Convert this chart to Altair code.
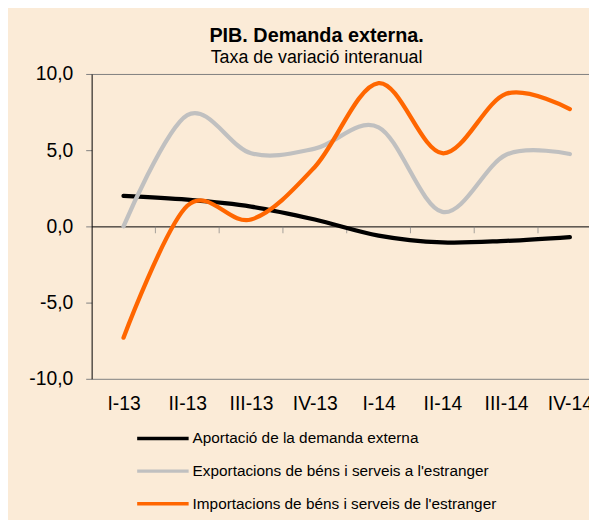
import altair as alt
import pandas as pd

categories = ["I-13", "II-13", "III-13", "IV-13", "I-14", "II-14", "III-14", "IV-14"]
aportacio = [2.0, 1.75, 1.3, 0.45, -0.6, -1.05, -0.95, -0.7]
exportacions = [0.0, 7.3, 4.8, 5.1, 6.5, 0.95, 4.7, 4.75]
importacions = [-7.3, 1.35, 0.45, 3.9, 9.4, 4.8, 8.7, 7.7]
series_names = [
    "Aportació de la demanda externa",
    "Exportacions de béns i serveis a l'estranger",
    "Importacions de béns i serveis de l'estranger",
]
series_colors = ["#000000", "#C0C0C0", "#FF6600"]
y_ticks = [-10, -5, 0, 5, 10]

FONT = "Liberation Sans"
BG = "#FBEBD7"

rows = []
for name, vals in zip(series_names, [aportacio, exportacions, importacions]):
    for i, v in enumerate(vals):
        rows.append({"idx": i, "cat": categories[i], "serie": name, "valor": v})
df = pd.DataFrame(rows)

tick_df = pd.DataFrame({"pos": [i + 0.5 for i in range(len(categories) - 1)], "zero": 0})

label_expr = "[" + ",".join("'" + c + "'" for c in categories) + "][datum.value]"

x_scale = alt.Scale(domain=[-0.5, 7.3], nice=False, zero=False)
y_scale = alt.Scale(domain=[-10, 10], nice=False)

lines = alt.Chart(df).mark_line(
    interpolate="cardinal", strokeWidth=4.3, strokeCap="round", strokeJoin="round"
).encode(
    x=alt.X(
        "idx:Q",
        scale=x_scale,
        axis=alt.Axis(
            values=list(range(len(categories))),
            labelExpr=label_expr,
            title=None,
            domain=False,
            ticks=False,
            tickSize=0,
            grid=False,
            labelFont=FONT,
            labelFontSize=19.5,
            labelColor="#000000",
            labelPadding=16,
            labelFlush=False,
        ),
    ),
    y=alt.Y(
        "valor:Q",
        scale=y_scale,
        axis=alt.Axis(
            values=y_ticks,
            labelExpr="replace(replace(format(datum.value, '.1f'), '.', ','), '\u2212', '-')",
            title=None,
            domainColor="#000000",
            domainWidth=1,
            tickColor="#808080",
            tickSize=6,
            labelFont=FONT,
            labelFontSize=19.5,
            labelColor="#000000",
            labelPadding=13,
            grid=True,
            gridColor={"condition": {"test": "datum.value == 0", "value": "#000000"}, "value": "#808080"},
            gridOpacity={"condition": {"test": "abs(datum.value) == 10 || datum.value == 0", "value": 1}, "value": 0},
            gridWidth=1,
        ),
    ),
    color=alt.Color(
        "serie:N",
        scale=alt.Scale(domain=series_names, range=series_colors),
        legend=alt.Legend(
            title=None,
            orient="none",
            legendX=44,
            legendY=352,
            direction="vertical",
            symbolType="stroke",
            symbolSize=2704,
            symbolStrokeWidth=3.5,
            labelFont=FONT,
            labelFontSize=15.5,
            labelColor="#000000",
            labelLimit=500,
            labelOffset=2,
            clipHeight=32.5,
            rowPadding=0,
            padding=0,
        ),
    ),
    detail="serie:N",
)

zero_ticks = alt.Chart(tick_df).mark_tick(
    orient="vertical", size=7, thickness=1, color="#808080", yOffset=3.5
).encode(
    x=alt.X("pos:Q", scale=x_scale),
    y=alt.Y("zero:Q", scale=y_scale),
)

chart = alt.layer(zero_ticks, lines).properties(
    width=502.5,
    height=308,
    background=BG,
    autosize=alt.AutoSizeParams(type="none"),
    padding={"left": 84.5, "top": 64, "right": 0, "bottom": 140},
    title=alt.TitleParams(
        text="PIB. Demanda externa.",
        subtitle="Taxa de variació interanual",
        font=FONT,
        fontSize=20,
        fontWeight="bold",
        color="#000000",
        subtitleFont=FONT,
        subtitleFontSize=18,
        subtitleColor="#000000",
        subtitlePadding=3,
        anchor="middle",
        dx=-24,
        offset=-3,
    ),
).configure_view(stroke=None)

chart.save("out.html", embed_options={"renderer": "svg", "actions": False})
